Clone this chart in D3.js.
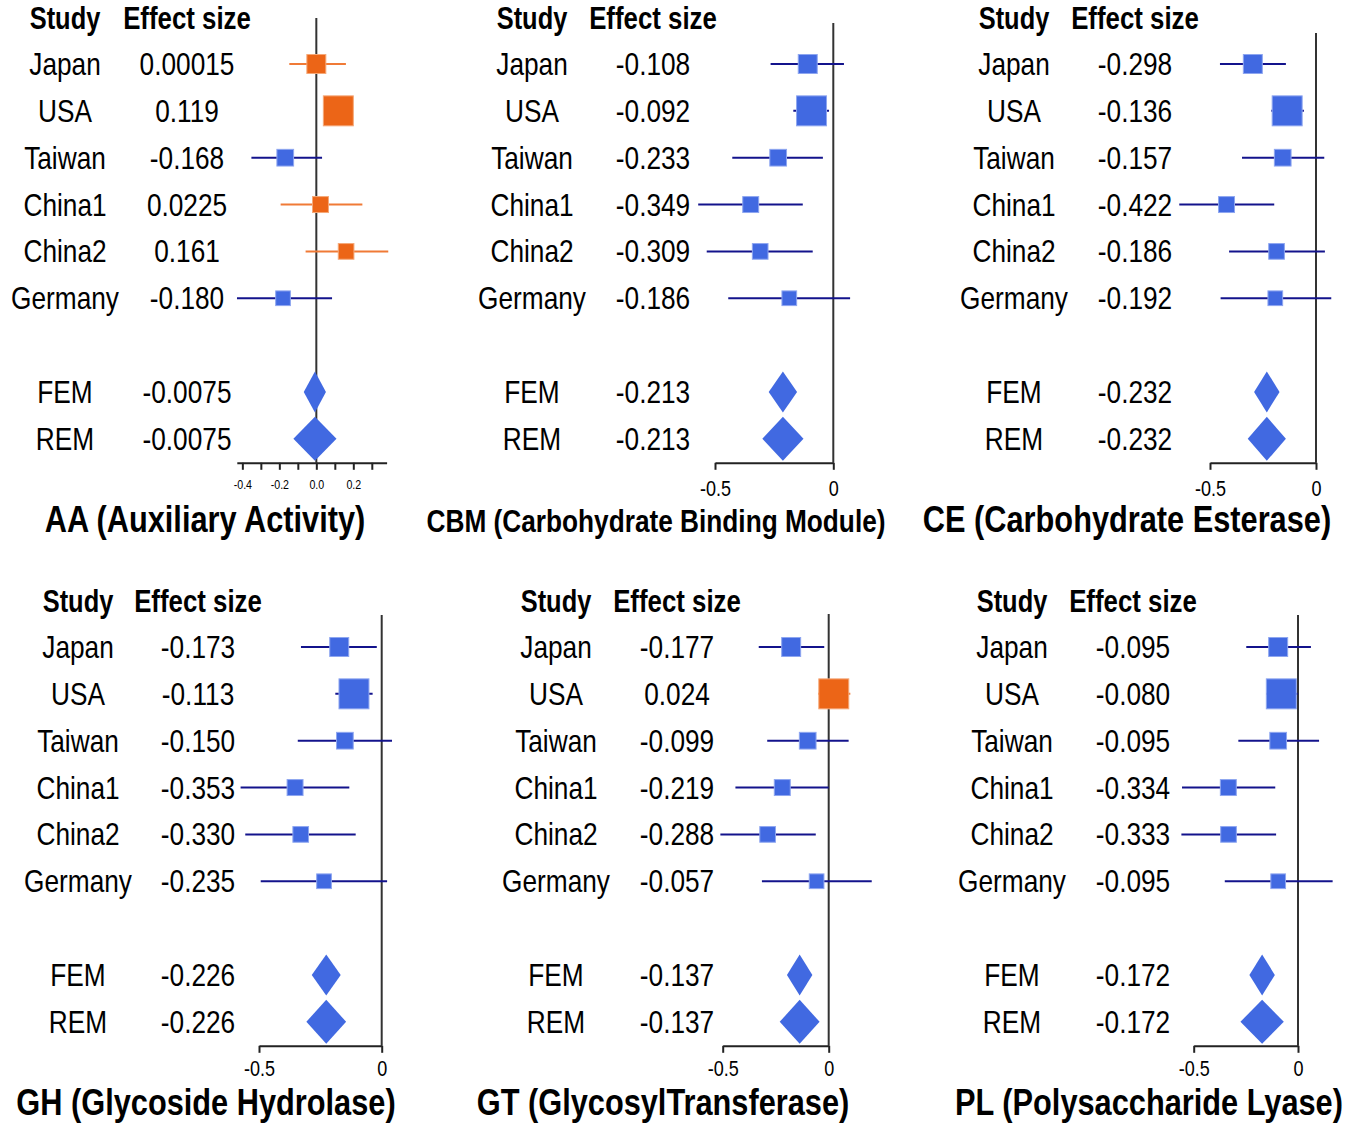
<!DOCTYPE html>
<html>
<head>
<meta charset="utf-8">
<script src="https://cdn.jsdelivr.net/npm/d3@7"></script>
<style>
  body { margin: 0; background: #fff; }
</style>
</head>
<body>
<script>
// =========================
// Data
// =========================
const studies = ["Japan", "USA", "Taiwan", "China1", "China2", "Germany"];
const weights = [16.0, 39.9, 12.4, 11.3, 10.9, 9.6];   // study weight (%), sets square size
const pooledNames = ["FEM", "REM"];

// AA (Auxiliary Activity)
const aaEffects = ["0.00015", "0.119", "-0.168", "0.0225", "0.161", "-0.180"];
const aaLow  = [-0.146, 0.07, -0.351, -0.193, -0.058, -0.429];
const aaHigh = [0.160, 0.17, 0.031, 0.249, 0.389, 0.085];
const aaPooled = "-0.0075";
const aaFem = [-0.068, 0.052];
const aaRem = [-0.124, 0.109];

// CBM (Carbohydrate Binding Module)
const cbmEffects = ["-0.108", "-0.092", "-0.233", "-0.349", "-0.309", "-0.186"];
const cbmLow  = [-0.265, -0.169, -0.427, -0.571, -0.535, -0.444];
const cbmHigh = [0.045, -0.018, -0.044, -0.129, -0.087, 0.071];
const cbmPooled = "-0.213";
const cbmFem = [-0.273, -0.153];
const cbmRem = [-0.300, -0.126];

// CE (Carbohydrate Esterase)
const ceEffects = ["-0.298", "-0.136", "-0.157", "-0.422", "-0.186", "-0.192"];
const ceLow  = [-0.453, -0.211, -0.349, -0.645, -0.410, -0.450];
const ceHigh = [-0.142, -0.057, 0.039, -0.197, 0.042, 0.072];
const cePooled = "-0.232";
const ceFem = [-0.292, -0.172];
const ceRem = [-0.322, -0.142];

// GH (Glycoside Hydrolase)
const ghEffects = ["-0.173", "-0.113", "-0.150", "-0.353", "-0.330", "-0.235"];
const ghLow  = [-0.329, -0.189, -0.342, -0.575, -0.556, -0.493];
const ghHigh = [-0.020, -0.037, 0.042, -0.132, -0.106, 0.022];
const ghPooled = "-0.226";
const ghFem = [-0.285, -0.167];
const ghRem = [-0.307, -0.145];

// GT (GlycosylTransferase)
const gtEffects = ["-0.177", "0.024", "-0.099", "-0.219", "-0.288", "-0.057"];
const gtLow  = [-0.330, -0.050, -0.290, -0.440, -0.511, -0.315];
const gtHigh = [-0.021, 0.102, 0.094, 0.000, -0.061, 0.203];
const gtPooled = "-0.137";
const gtFem = [-0.197, -0.077];
const gtRem = [-0.231, -0.043];

// PL (Polysaccharide Lyase)
const plEffects = ["-0.095", "-0.080", "-0.095", "-0.334", "-0.333", "-0.095"];
const plLow  = [-0.248, -0.153, -0.286, -0.556, -0.559, -0.351];
const plHigh = [0.062, -0.002, 0.101, -0.109, -0.105, 0.166];
const plPooled = "-0.172";
const plFem = [-0.233, -0.111];
const plRem = [-0.276, -0.068];

// axis ticks
const aaTicks = [-0.4, -0.3, -0.2, -0.1, 0.0, 0.1, 0.2, 0.3];
const aaTickLabels = ["-0.4", "", "-0.2", "", "0.0", "", "0.2", ""];
const stdTicks = [-0.5, 0];
const stdTickLabels = ["-0.5", "0"];

const panels = [
    { title: "AA (Auxiliary Activity)", effects: aaEffects, low: aaLow, high: aaHigh, pooled: aaPooled, fem: aaFem, rem: aaRem, ticks: aaTicks, tickLabels: aaTickLabels },
    { title: "CBM (Carbohydrate Binding Module)", effects: cbmEffects, low: cbmLow, high: cbmHigh, pooled: cbmPooled, fem: cbmFem, rem: cbmRem, ticks: stdTicks, tickLabels: stdTickLabels },
    { title: "CE (Carbohydrate Esterase)", effects: ceEffects, low: ceLow, high: ceHigh, pooled: cePooled, fem: ceFem, rem: ceRem, ticks: stdTicks, tickLabels: stdTickLabels },
    { title: "GH (Glycoside Hydrolase)", effects: ghEffects, low: ghLow, high: ghHigh, pooled: ghPooled, fem: ghFem, rem: ghRem, ticks: stdTicks, tickLabels: stdTickLabels },
    { title: "GT (GlycosylTransferase)", effects: gtEffects, low: gtLow, high: gtHigh, pooled: gtPooled, fem: gtFem, rem: gtRem, ticks: stdTicks, tickLabels: stdTickLabels },
    { title: "PL (Polysaccharide Lyase)", effects: plEffects, low: plLow, high: plHigh, pooled: plPooled, fem: plFem, rem: plRem, ticks: stdTicks, tickLabels: stdTickLabels }
];

// =========================
// Layout (pixel placement per panel)
// =========================
const layouts = [
    { studyX: 65,   effX: 187,  titleX: 205,  titleSize: 37.5, top: 0,   zeroTop: 18,  tickDy: 26, domain: [-0.43, 0.38], range: [236.8, 386.6], smallTicks: true },
    { studyX: 532,  effX: 653,  titleX: 656,  titleSize: 32,   top: 0,   zeroTop: 23,  tickDy: 33, domain: [-0.5, 0], range: [715, 833.3] },
    { studyX: 1014, effX: 1135, titleX: 1127, titleSize: 37.5, top: 0,   zeroTop: 33,  tickDy: 33, domain: [-0.5, 0], range: [1210, 1316] },
    { studyX: 78,   effX: 198,  titleX: 206,  titleSize: 37.5, top: 583, zeroTop: 615, tickDy: 30, domain: [-0.5, 0], range: [259, 381.7] },
    { studyX: 556,  effX: 677,  titleX: 663,  titleSize: 37.5, top: 583, zeroTop: 614, tickDy: 30, domain: [-0.5, 0], range: [722.7, 828.7] },
    { studyX: 1012, effX: 1133, titleX: 1149, titleSize: 37.5, top: 583, zeroTop: 615, tickDy: 30, domain: [-0.5, 0], range: [1193.7, 1298] }
];

const FONT = "'Liberation Sans', Arial, sans-serif";
const SQUEEZE = 0.82;   // the original uses a condensed face
const BLUE = "#4169E1", ORANGE = "#EC6517";
const BLUE_LINE = "#13138c", ORANGE_LINE = "#F07A36";

const svg = d3.select("body").append("svg")
    .attr("width", 1350)
    .attr("height", 1130);

const size = d3.scaleSqrt().domain([0, 40]).range([0, 30]);

// condensed text helper
function narrow(sel, fx, fy) {
    return sel
        .attr("x", 0).attr("y", 0)
        .attr("transform", (d, j) => `translate(${typeof fx === "function" ? fx(d, j) : fx},${typeof fy === "function" ? fy(d, j) : fy}) scale(${SQUEEZE},1)`)
        .attr("text-anchor", "middle")
        .attr("font-family", FONT);
}

panels.forEach((p, i) => {
    const L = layouts[i];
    const g = svg.append("g").attr("transform", `translate(0,${L.top})`);

    const x = d3.scaleLinear().domain(L.domain).range(L.range);
    // rows: 0-5 studies, 7 FEM, 8 REM
    const y = d3.scaleLinear().domain([0, 8]).range([64, 64 + 8 * 46.85]);
    const axisY = y(8) + 24;

    // headers
    narrow(g.append("text"), L.studyX, 29).text("Study")
        .attr("font-weight", "bold").attr("font-size", "31px");
    narrow(g.append("text"), L.effX, 29).text("Effect size")
        .attr("font-weight", "bold").attr("font-size", "31.5px");

    const rows = studies.map((s, j) => ({
        name: s, label: p.effects[j], value: +p.effects[j],
        low: p.low[j], high: p.high[j], w: weights[j], row: j
    }));

    const pooled = pooledNames.map((n, j) => ({
        name: n, label: p.pooled, value: +p.pooled,
        ci: j === 0 ? p.fem : p.rem, row: 7 + j, half: j === 0 ? 20.5 : 22
    }));

    const allRows = rows.concat(pooled);

    // study names + effect labels
    narrow(g.selectAll(".study").data(allRows).enter().append("text"),
        L.studyX, d => y(d.row) + 11)
        .attr("font-size", "32px")
        .text(d => d.name);
    narrow(g.selectAll(".eff").data(allRows).enter().append("text"),
        L.effX, d => y(d.row) + 11)
        .attr("font-size", "32px")
        .text(d => d.label);

    // zero line
    g.append("line")
        .attr("x1", x(0)).attr("x2", x(0))
        .attr("y1", L.zeroTop - L.top).attr("y2", axisY)
        .attr("stroke", "#333").attr("stroke-width", 2);

    // confidence intervals
    g.selectAll(".ci")
        .data(rows)
        .enter().append("line")
        .attr("x1", d => x(d.low)).attr("x2", d => x(d.high))
        .attr("y1", d => y(d.row)).attr("y2", d => y(d.row))
        .attr("stroke", d => d.value > 0 ? ORANGE_LINE : BLUE_LINE)
        .attr("stroke-width", 2);

    // squares
    g.selectAll(".sq")
        .data(rows)
        .enter().append("rect")
        .attr("x", d => x(d.value) - size(d.w) / 2)
        .attr("y", d => y(d.row) - size(d.w) / 2)
        .attr("width", d => size(d.w))
        .attr("height", d => size(d.w))
        .attr("fill", d => d.value > 0 ? ORANGE : BLUE)
        .attr("stroke", d => d.value > 0 ? "#f5a878" : "#8ea6f0")
        .attr("stroke-width", 1);

    // diamonds
    g.selectAll(".dia")
        .data(pooled)
        .enter().append("path")
        .attr("d", d => {
            const cy = y(d.row);
            return `M${x(d.ci[0])},${cy} L${x(d.value)},${cy - d.half} L${x(d.ci[1])},${cy} L${x(d.value)},${cy + d.half} Z`;
        })
        .attr("fill", BLUE);

    // axis
    const axis = g.append("g")
        .attr("transform", `translate(0,${axisY})`)
        .call(d3.axisBottom(x)
            .tickValues(p.ticks)
            .tickSize(7)
            .tickSizeOuter(0)
            .tickFormat((d, j) => p.tickLabels[j]));
    axis.select(".domain").attr("stroke", "#222").attr("stroke-width", 2);
    axis.selectAll(".tick line").attr("stroke", "#222").attr("stroke-width", 2);
    axis.selectAll(".tick text")
        .attr("fill", "#000")
        .attr("font-family", FONT)
        .attr("font-size", L.smallTicks ? "13px" : "22px")
        .attr("y", 0).attr("dy", 0)
        .attr("transform", `translate(0,${L.tickDy}) scale(${SQUEEZE},1)`);

    // panel title
    narrow(g.append("text"), L.titleX, axisY + 69)
        .attr("font-weight", "bold").attr("font-size", `${L.titleSize}px`)
        .text(p.title);
});
</script>
</body>
</html>
